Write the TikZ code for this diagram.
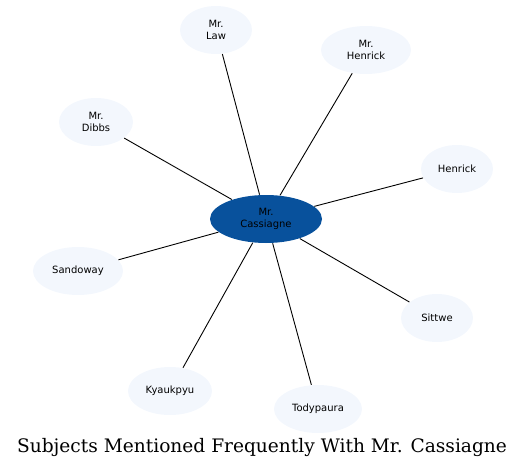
\documentclass[tikz,border=0pt]{standalone}
\usepackage{fontspec}
\setmainfont{DejaVu Sans}
\newfontfamily\titlefont{DejaVu Serif}
\usetikzlibrary{shapes.geometric}
\definecolor{hubblue}{HTML}{08519C}
\definecolor{leafblue}{HTML}{F3F7FD}
\begin{document}
\begin{tikzpicture}[x=1pt, y=-1pt, line width=0.9pt,
  leaf/.style={ellipse, fill=leafblue, draw=none, inner sep=0pt, minimum height=48pt,
    font=\fontsize{10}{11.5}\selectfont, align=center},
  hub/.style={leaf, fill=hubblue, minimum width=112pt}]
  \useasboundingbox (0,0) rectangle (525,469);
  % el centro
  \node[hub] (cassiagne) at (266,219) {Mr.\\Cassiagne};
  % los nombres alrededor
  \node[leaf, minimum width=72pt] (law) at (216,30) {Mr.\\Law};
  \node[leaf, minimum width=90pt] (mrhenrick) at (366,50) {Mr.\\Henrick};
  \node[leaf, minimum width=74pt] (dibbs) at (96,122) {Mr.\\Dibbs};
  \node[leaf, minimum width=72pt] (henrick) at (457,169) {Henrick};
  \node[leaf, minimum width=90pt] (sandoway) at (78,271) {Sandoway};
  \node[leaf, minimum width=72pt] (sittwe) at (437,318) {Sittwe};
  \node[leaf, minimum width=84pt] (kyaukpyu) at (170,391) {Kyaukpyu};
  \node[leaf, minimum width=88pt] (todypaura) at (318,409) {Todypaura};
  % los radios
  \foreach \n in {law, mrhenrick, dibbs, henrick, sandoway, sittwe, kyaukpyu, todypaura} {
    \draw (cassiagne) -- (\n);
  }
  % el titulo
  \node[font=\titlefont\fontsize{18.6}{22}\selectfont] (title) at (262,447) {Subjects Mentioned Frequently With Mr. Cassiagne};
\end{tikzpicture}
\end{document}
